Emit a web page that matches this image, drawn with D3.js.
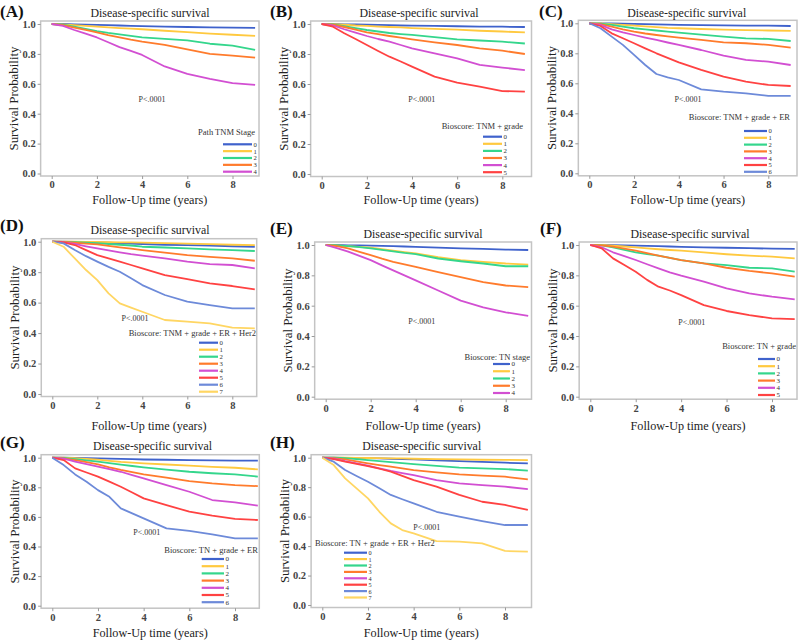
<!DOCTYPE html>
<html><head><meta charset="utf-8">
<script src="https://cdn.jsdelivr.net/npm/d3@7"></script>
<style>
html,body{margin:0;padding:0;background:#fff;}
svg{display:block;}
text{font-family:"Liberation Serif","Times New Roman",serif;}
</style></head>
<body>
<svg id="chart" width="800" height="640"></svg>
<script>
// ---------- DATA ----------
const followUpYears = [0,0.5,1,1.5,2,2.5,3,3.5,4,5,6,7,8,9];
const xTicks = [0,2,4,6,8];
const yTicks = [0,0.2,0.4,0.6,0.8,1.0];
const panelTitle = "Disease-specific survival";
const pValueText = "P<.0001";
const xAxisTitle = "Follow-Up time (years)";
const yAxisTitle = "Survival Probability";
const panelTags = ["(A)","(B)","(C)","(D)","(E)","(F)","(G)","(H)"];
const legendTitles = ["Path TNM Stage","Bioscore: TNM + grade","Bioscore: TNM + grade + ER",
  "Bioscore: TNM + grade + ER + Her2","Bioscore: TN stage","Bioscore: TN + grade",
  "Bioscore: TN + grade + ER","Bioscore: TN + grade + ER + Her2"];
const groupLabels = ["0","1","2","3","4","5","6","7"];

const survA = [
 [1,1,.998,.996,.994,.992,.99,.988,.986,.983,.98,.978,.976,.974],
 [1,.998,.993,.988,.983,.978,.973,.969,.965,.955,.945,.935,.928,.92],
 [1,.995,.982,.968,.952,.94,.93,.92,.91,.9,.89,.868,.855,.827],
 [1,.993,.976,.96,.944,.926,.91,.895,.882,.86,.83,.80,.789,.775],
 [1,.987,.96,.935,.91,.878,.845,.82,.793,.716,.667,.633,.604,.593]
];
const survB = [
 [1,1,.998,.997,.995,.994,.992,.99,.989,.987,.985,.983,.982,.98],
 [1,.999,.995,.99,.987,.983,.98,.977,.973,.968,.962,.955,.95,.944],
 [1,.997,.985,.972,.96,.95,.94,.933,.927,.912,.898,.89,.882,.87],
 [1,.995,.98,.962,.944,.932,.92,.909,.898,.878,.86,.838,.822,.80],
 [1,.99,.965,.942,.92,.9,.882,.86,.838,.804,.771,.727,.709,.693],
 [1,.982,.938,.9,.86,.82,.782,.75,.716,.649,.609,.582,.553,.549]
];
const survC = [
 [1,1,.999,.997,.996,.994,.993,.991,.99,.988,.986,.985,.984,.982],
 [1,.999,.995,.99,.985,.98,.975,.97,.967,.962,.958,.955,.952,.949],
 [1,.997,.99,.978,.967,.96,.952,.945,.938,.925,.911,.9,.896,.882],
 [1,.995,.978,.96,.944,.932,.922,.913,.904,.889,.873,.867,.856,.838],
 [1,.99,.96,.94,.922,.905,.889,.872,.856,.822,.784,.756,.744,.722],
 [1,.982,.933,.9,.867,.833,.8,.77,.74,.689,.644,.611,.589,.582],
 [1,.967,.911,.856,.789,.722,.662,.64,.622,.56,.544,.533,.516,.516]
];
const survD = [
 [1,1,.999,.997,.995,.993,.99,.988,.985,.98,.977,.975,.97,.967],
 [1,1,1,.999,.998,.997,.996,.995,.994,.99,.987,.984,.98,.978],
 [1,.999,.997,.993,.99,.985,.98,.975,.967,.962,.956,.95,.945,.939],
 [1,.998,.993,.988,.982,.972,.963,.954,.945,.928,.912,.9,.89,.875],
 [1,.996,.985,.97,.956,.943,.93,.918,.908,.89,.869,.853,.847,.825],
 [1,.995,.978,.945,.912,.89,.869,.847,.825,.781,.755,.726,.709,.687],
 [1,.989,.945,.905,.869,.835,.803,.76,.715,.65,.606,.584,.562,.562],
 [1,.967,.89,.814,.748,.661,.595,.567,.54,.486,.475,.464,.436,.431]
];
const survE = [
 [1,1,.998,.997,.996,.994,.992,.99,.988,.983,.978,.974,.97,.967],
 [1,.998,.993,.988,.982,.972,.962,.953,.945,.92,.9,.889,.878,.871],
 [1,.998,.993,.986,.978,.968,.958,.948,.94,.911,.893,.878,.86,.86],
 [1,.993,.978,.955,.933,.91,.889,.872,.856,.822,.789,.756,.733,.722],
 [1,.98,.956,.928,.9,.866,.833,.8,.767,.7,.633,.589,.556,.533]
];
const survF = [
 [1,1,.999,.998,.996,.994,.992,.99,.988,.985,.982,.979,.976,.974],
 [1,1,.996,.99,.985,.978,.972,.967,.963,.951,.939,.93,.923,.912],
 [1,.997,.985,.968,.952,.94,.93,.915,.901,.879,.868,.85,.846,.824],
 [1,.998,.989,.976,.963,.946,.93,.915,.901,.879,.85,.829,.813,.791],
 [1,.985,.952,.927,.901,.873,.846,.82,.798,.758,.714,.681,.659,.642],
 [1,.978,.912,.868,.824,.77,.725,.7,.67,.604,.565,.538,.516,.512]
];
const survG = [
 [1,1,.999,.997,.996,.994,.992,.99,.988,.986,.984,.982,.98,.98],
 [1,1,.997,.992,.987,.979,.972,.967,.962,.954,.946,.938,.932,.921],
 [1,.998,.99,.982,.973,.963,.953,.944,.935,.92,.905,.895,.887,.872],
 [1,.995,.984,.97,.955,.935,.917,.902,.887,.865,.842,.826,.815,.808],
 [1,.993,.973,.956,.939,.922,.905,.882,.86,.815,.77,.714,.698,.676],
 [1,.984,.928,.9,.872,.838,.804,.765,.725,.68,.635,.608,.586,.579],
 [1,.95,.887,.838,.781,.736,.658,.624,.59,.522,.505,.482,.455,.455]
];
const survH = [
 [1,1,.999,.998,.997,.995,.993,.99,.988,.982,.977,.972,.966,.962],
 [1,1,1,.999,.998,.997,.996,.995,.993,.99,.988,.986,.985,.984],
 [1,1,.997,.99,.984,.977,.97,.963,.957,.945,.932,.927,.923,.912],
 [1,.997,.989,.975,.962,.95,.939,.927,.916,.9,.887,.878,.871,.853],
 [1,.994,.977,.962,.946,.928,.91,.896,.882,.848,.826,.814,.803,.787],
 [1,.99,.973,.958,.943,.925,.905,.877,.848,.803,.747,.701,.679,.645],
 [1,.973,.916,.876,.837,.792,.747,.718,.69,.633,.6,.57,.543,.543],
 [1,.95,.86,.792,.724,.633,.554,.509,.486,.434,.43,.418,.367,.362]
];
const allSurv = [survA,survB,survC,survD,survE,survF,survG,survH];

// ---------- STYLE / LAYOUT ----------
const seriesColors = ["#3f62cc","#ffc93f","#34d68c","#ff7b2c","#d24fd2","#ff4242","#6d8ad9","#ffd663"];
const font = '"Liberation Serif","Times New Roman",serif';

// x0/x8: pixel of year 0 and 8; y1/y0: pixel of prob 1 and 0; right: frame right edge
const layout = [
 {x0:51.7, x8:232.5, y1:24,    y0:173.5, right:259,   tag:[0,17],     tx:150,   ty:16.7,  xl:204,
  p:[152,102],   leg:{tx:255,ty:134.5,anchor:"end",lx1:223,lx2:252,ry:144.3,step:6.85}},
 {x0:321.7,x8:502.3, y1:24,    y0:174,   right:531.5, tag:[270,17],   tx:419,   ty:16.7,  xl:204,
  p:[421.7,102.3],leg:{tx:523,ty:129,anchor:"end",lx1:483,lx2:502,ry:136.7,step:7.1}},
 {x0:589.3,x8:768.3, y1:23.3,  y0:173.3, right:797,   tag:[539,17],   tx:686.7, ty:16.7,  xl:204,
  p:[688,102.3], leg:{tx:790,ty:120.3,anchor:"end",lx1:744,lx2:767,ry:131,step:6.8}},
 {x0:52.3, x8:232.3, y1:241.7, y0:394,   right:256.7, tag:[0,231],    tx:150,   ty:234.3, xl:430,
  p:[135,320.7], leg:{tx:256,ty:335.7,anchor:"end",lx1:199,lx2:218,ry:342.7,step:7}},
 {x0:325.7,x8:505.7, y1:245,   y0:396.7, right:531.5, tag:[270,234],  tx:423,   ty:237.7, xl:430,
  p:[421.7,324], leg:{tx:530,ty:359.7,anchor:"end",lx1:493,lx2:510,ry:364,step:7.25}},
 {x0:590.3,x8:772,   y1:245,   y0:396.7, right:797,   tag:[540,234],  tx:690,   ty:237.7, xl:430,
  p:[691.7,325.3],leg:{tx:796,ty:349,anchor:"end",lx1:758,lx2:775,ry:359,step:7.2}},
 {x0:52.3, x8:235,   y1:457.7, y0:605.7, right:259.3, tag:[0,447.7],  tx:152.5, ty:450,   xl:637,
  p:[146.7,535.3],leg:{tx:258,ty:553,anchor:"end",lx1:201.7,lx2:224,ry:559,step:7.2}},
 {x0:322.3,x8:505,   y1:457.7, y0:605,   right:531.5, tag:[270,448],  tx:421.7, ty:449.7, xl:637,
  p:[426.7,529.7],leg:{tx:315,ty:545.7,anchor:"start",lx1:344,lx2:367,ry:552.7,step:6.4}}
];

const svg = d3.select("#chart");

allSurv.forEach((surv, pi) => {
  const L = layout[pi];
  const x = d3.scaleLinear().domain([0,8]).range([L.x0, L.x8]);
  const y = d3.scaleLinear().domain([0,1]).range([L.y0, L.y1]);
  const frameLeft = x(-0.49);
  const frameTop = L.y1 - 3;
  const frameBottom = L.y0 + 2.5;
  const g = svg.append("g");

  // frame
  g.append("rect").attr("x", frameLeft).attr("y", frameTop)
    .attr("width", L.right - frameLeft).attr("height", frameBottom - frameTop)
    .attr("fill", "none").attr("stroke", "#c4c4c4").attr("stroke-width", 1.5);

  // axes
  const xAxis = d3.axisBottom(x).tickValues(xTicks).tickSize(3).tickPadding(2).tickFormat(d3.format("d"));
  const xg = g.append("g").attr("transform", `translate(0,${frameBottom})`).call(xAxis);
  const yAxis = d3.axisLeft(y).tickValues(yTicks).tickSize(3).tickPadding(2).tickFormat(d3.format(".1f"));
  const yg = g.append("g").attr("transform", `translate(${frameLeft},0)`).call(yAxis);
  [xg, yg].forEach(a => {
    a.attr("font-family", font);
    a.select(".domain").remove();
    a.selectAll(".tick line").attr("stroke", "#9a9a9a");
    a.selectAll(".tick text").attr("fill", "#444").attr("font-family", font)
      .attr("font-size", 10.5).attr("font-weight", "bold");
  });

  // curves
  const line = d3.line().x((d,i) => x(followUpYears[i])).y(d => y(d));
  surv.forEach((s, si) => {
    g.append("path").datum(s).attr("d", line).attr("fill", "none")
      .attr("stroke", seriesColors[si]).attr("stroke-width", 1.8).attr("stroke-linejoin", "round");
  });

  // texts
  g.append("text").attr("x", L.tag[0]).attr("y", L.tag[1]).text(panelTags[pi])
    .attr("font-size", 17).attr("font-weight", "bold").attr("fill", "#111");
  g.append("text").attr("x", L.tx).attr("y", L.ty).attr("text-anchor", "middle").text(panelTitle)
    .attr("font-size", 12.5).attr("fill", "#222").attr("textLength", 119).attr("lengthAdjust", "spacingAndGlyphs");
  g.append("text").attr("x", (frameLeft + L.right) / 2).attr("y", L.xl).attr("text-anchor", "middle").text(xAxisTitle)
    .attr("font-size", 13.5).attr("fill", "#222").attr("textLength", 115).attr("lengthAdjust", "spacingAndGlyphs");
  const cy = (frameTop + frameBottom) / 2;
  g.append("text").attr("transform", `translate(${frameLeft - 22.5},${cy}) rotate(-90)`)
    .attr("text-anchor", "middle").text(yAxisTitle)
    .attr("font-size", 13.5).attr("fill", "#222").attr("textLength", 104).attr("lengthAdjust", "spacingAndGlyphs");
  g.append("text").attr("x", L.p[0]).attr("y", L.p[1]).attr("text-anchor", "middle").text(pValueText)
    .attr("font-size", 8).attr("fill", "#333");

  // legend
  const lg = L.leg;
  const digitSize = Math.min(7, lg.step - 0.2);
  g.append("text").attr("x", lg.tx).attr("y", lg.ty).attr("text-anchor", lg.anchor).text(legendTitles[pi])
    .attr("font-size", 8.5).attr("fill", "#333");
  surv.forEach((s, si) => {
    const ry = lg.ry + si * lg.step;
    g.append("line").attr("x1", lg.lx1).attr("x2", lg.lx2).attr("y1", ry).attr("y2", ry)
      .attr("stroke", seriesColors[si]).attr("stroke-width", 2.2);
    g.append("text").attr("x", lg.lx2 + 1.5).attr("y", ry + 2.4).text(groupLabels[si])
      .attr("font-size", digitSize).attr("fill", "#333");
  });
});
</script>
</body></html>
